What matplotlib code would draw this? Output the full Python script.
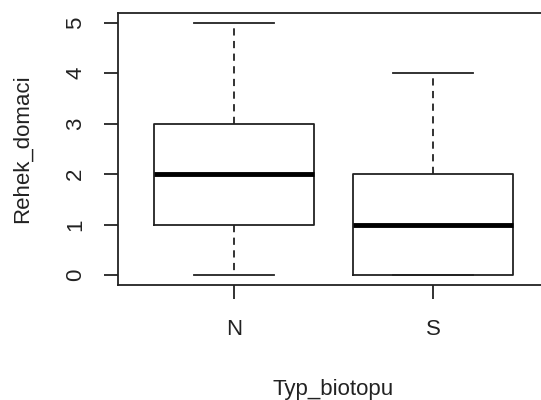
import matplotlib
matplotlib.use("Agg")
import matplotlib.pyplot as plt

# box stats
groups = ["N", "S"]
mins = [0, 0]
q1s = [1, 0]
medians = [2, 1]
q3s = [3, 2]
maxs = [5, 4]
yticks = [0, 1, 2, 3, 4, 5]

plt.rcParams['font.family'] = ['Liberation Sans', 'DejaVu Sans']

stats = []
for g, lo, a, m, b, hi in zip(groups, mins, q1s, medians, q3s, maxs):
    stats.append({'label': g, 'whislo': lo, 'q1': a, 'med': m, 'q3': b,
                  'whishi': hi, 'fliers': []})

fig = plt.figure(figsize=(5.41, 4.0), dpi=100)
ax = fig.add_axes([0.2181, 0.2865, 0.7967, 0.682])

ax.bxp(stats, positions=[1, 2], widths=0.8, showfliers=False,
       boxprops=dict(color='#222222', linewidth=1.3),
       medianprops=dict(color='black', linewidth=3.5, solid_capstyle='butt'),
       whiskerprops=dict(color='#222222', linewidth=1.3, linestyle=(0, (4, 3))),
       capprops=dict(color='#222222', linewidth=1.3),
       capwidths=0.4)

ax.set_xlim(0.42, 2.58)
ax.set_ylim(-0.2, 5.2)
ax.set_yticks(yticks)
ax.set_yticklabels([str(v) for v in yticks], rotation=90, va='center')
ax.set_xticks([1, 2])
ax.set_xticklabels(groups)

for s in ax.spines.values():
    s.set_linewidth(1.3)
    s.set_color('#222222')

ax.tick_params(axis='both', length=10, width=1.3, color='#222222',
               labelsize=16, labelcolor='#222222')
ax.tick_params(axis='x', pad=14)
ax.tick_params(axis='y', pad=13)

ax.set_xlabel("Typ_biotopu", fontsize=16, color='#222222', labelpad=28)
ax.set_ylabel("Rehek_domaci", fontsize=16, color='#222222', labelpad=23)

fig.savefig("out.png", dpi=100)
